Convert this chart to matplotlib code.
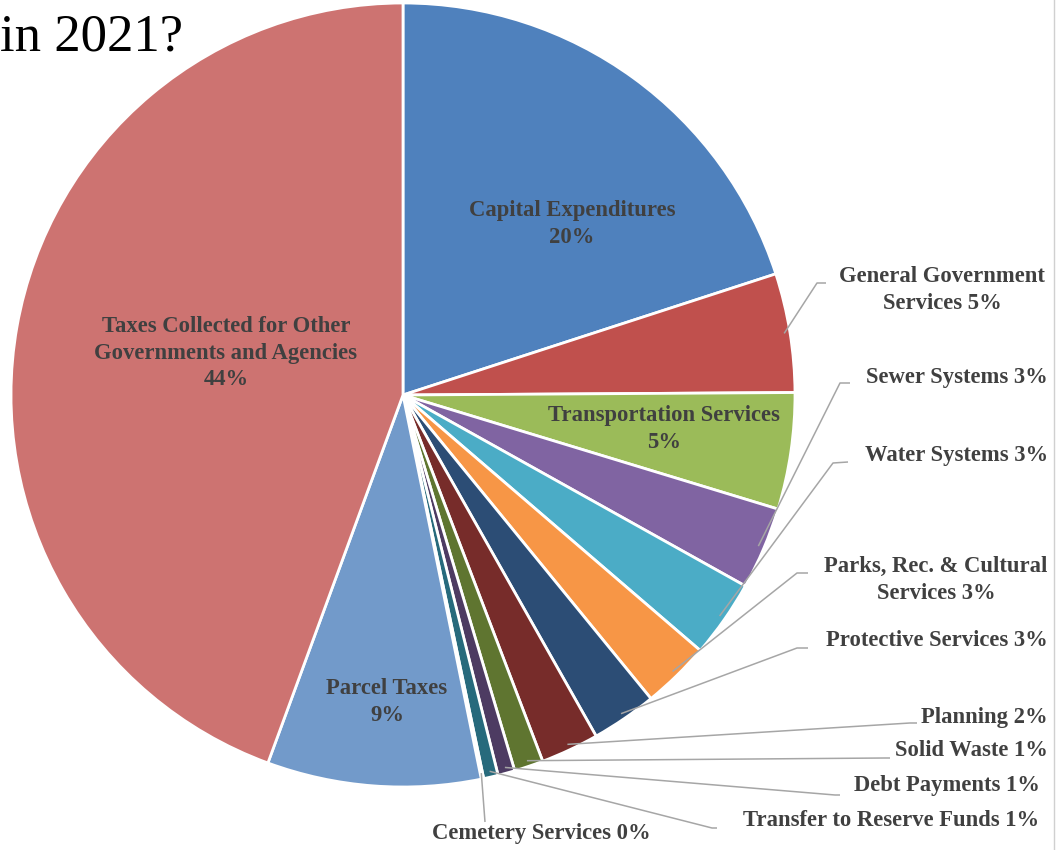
import numpy as np
import matplotlib.pyplot as plt

# Budget share by category (percent), clockwise from 12 o'clock
categories = ['Capital Expenditures', 'General Government\nServices', 'Transportation Services',
              'Sewer Systems', 'Water Systems', 'Parks, Rec. & Cultural\nServices',
              'Protective Services', 'Planning', 'Solid Waste', 'Debt Payments',
              'Transfer to Reserve Funds', 'Cemetery Services', 'Parcel Taxes',
              'Taxes Collected for Other\nGovernments and Agencies']
shares = [20.0, 4.9, 4.8, 3.4, 3.2, 2.8, 2.7, 2.4, 1.2, 0.7, 0.6, 0.1, 8.8, 44.4]
colors = ['#4F81BD', '#C0504D', '#9BBB59', '#8064A2', '#4BACC6', '#F79646', '#2C4D75',
          '#772C2A', '#5F7530', '#4D3B62', '#276A7C', '#B65708', '#729ACA', '#CD7371']

W, H = 1061, 850
fig = plt.figure(figsize=(W / 100, H / 100), dpi=100)
ax = fig.add_axes([0, 0, 1, 1])

cx, cy, r = 403, H - 395, 392
wedges, _ = ax.pie(shares, colors=colors, startangle=90, counterclock=False,
                   center=(cx, cy), radius=r, frame=True,
                   wedgeprops=dict(edgecolor='white', linewidth=2))
ax.set_xlim(0, W)
ax.set_ylim(0, H)
ax.set_aspect('equal')
ax.axis('off')

font = dict(family='Liberation Serif', fontweight='bold', fontsize=16.3, color='#404040')

def pct(i):
    return f"{shares[i]:.0f}%"

# labels inside the slices (index -> x, y in pixels from top)
inside = {0: (572, 224), 2: (664, 429), 12: (387, 702), 13: (226, 353)}
for i, (x, y) in inside.items():
    ax.text(x, H - y, categories[i] + '\n' + pct(i), ha='center', va='center',
            multialignment='center', linespacing=1.35, **font)

# labels outside: index -> (elbow, line end, text x, text y, ha, one line?)
outside = {
    1: ((817, 283), (826, 283), 942, 290, 'center', False),
    3: ((840, 383), (850, 383), 1048, 377, 'right', True),
    4: ((833, 463), (848, 462), 1048, 455, 'right', True),
    5: ((797, 573), (808, 573), 936, 580, 'center', False),
    6: ((797, 648), (808, 648), 1048, 640, 'right', True),
    7: ((910, 723), (917, 723), 1048, 717, 'right', True),
    8: ((885, 758), (890, 758), 1048, 750, 'right', True),
    9: ((835, 795), (840, 795), 1040, 786, 'right', True),
    10: ((712, 828), (717, 828), 1039, 820, 'right', True),
    11: ((485, 822), (485, 822), 541, 834, 'center', True),
}
for i, (elbow, end, tx, ty, ha, single) in outside.items():
    w = wedges[i]
    mid = np.deg2rad((w.theta1 + w.theta2) / 2)
    sx, sy = cx + r * 0.985 * np.cos(mid), cy + r * 0.985 * np.sin(mid)
    ax.plot([sx, elbow[0], end[0]], [sy, H - elbow[1], H - end[1]],
            color='#a6a6a6', lw=1.1, solid_capstyle='butt')
    text = categories[i].replace('\n', ' ') if single else categories[i]
    ax.text(tx, H - ty, text + ' ' + pct(i), ha=ha, va='center',
            multialignment='center', linespacing=1.35, **font)

ax.text(0, H - 50, 'in 2021?', ha='left', va='baseline', family='Liberation Serif',
        fontsize=38, color='black')
ax.plot([1054, 1054], [0, H], color='#d0d0d0', lw=1)

fig.savefig('out.png', dpi=100)
